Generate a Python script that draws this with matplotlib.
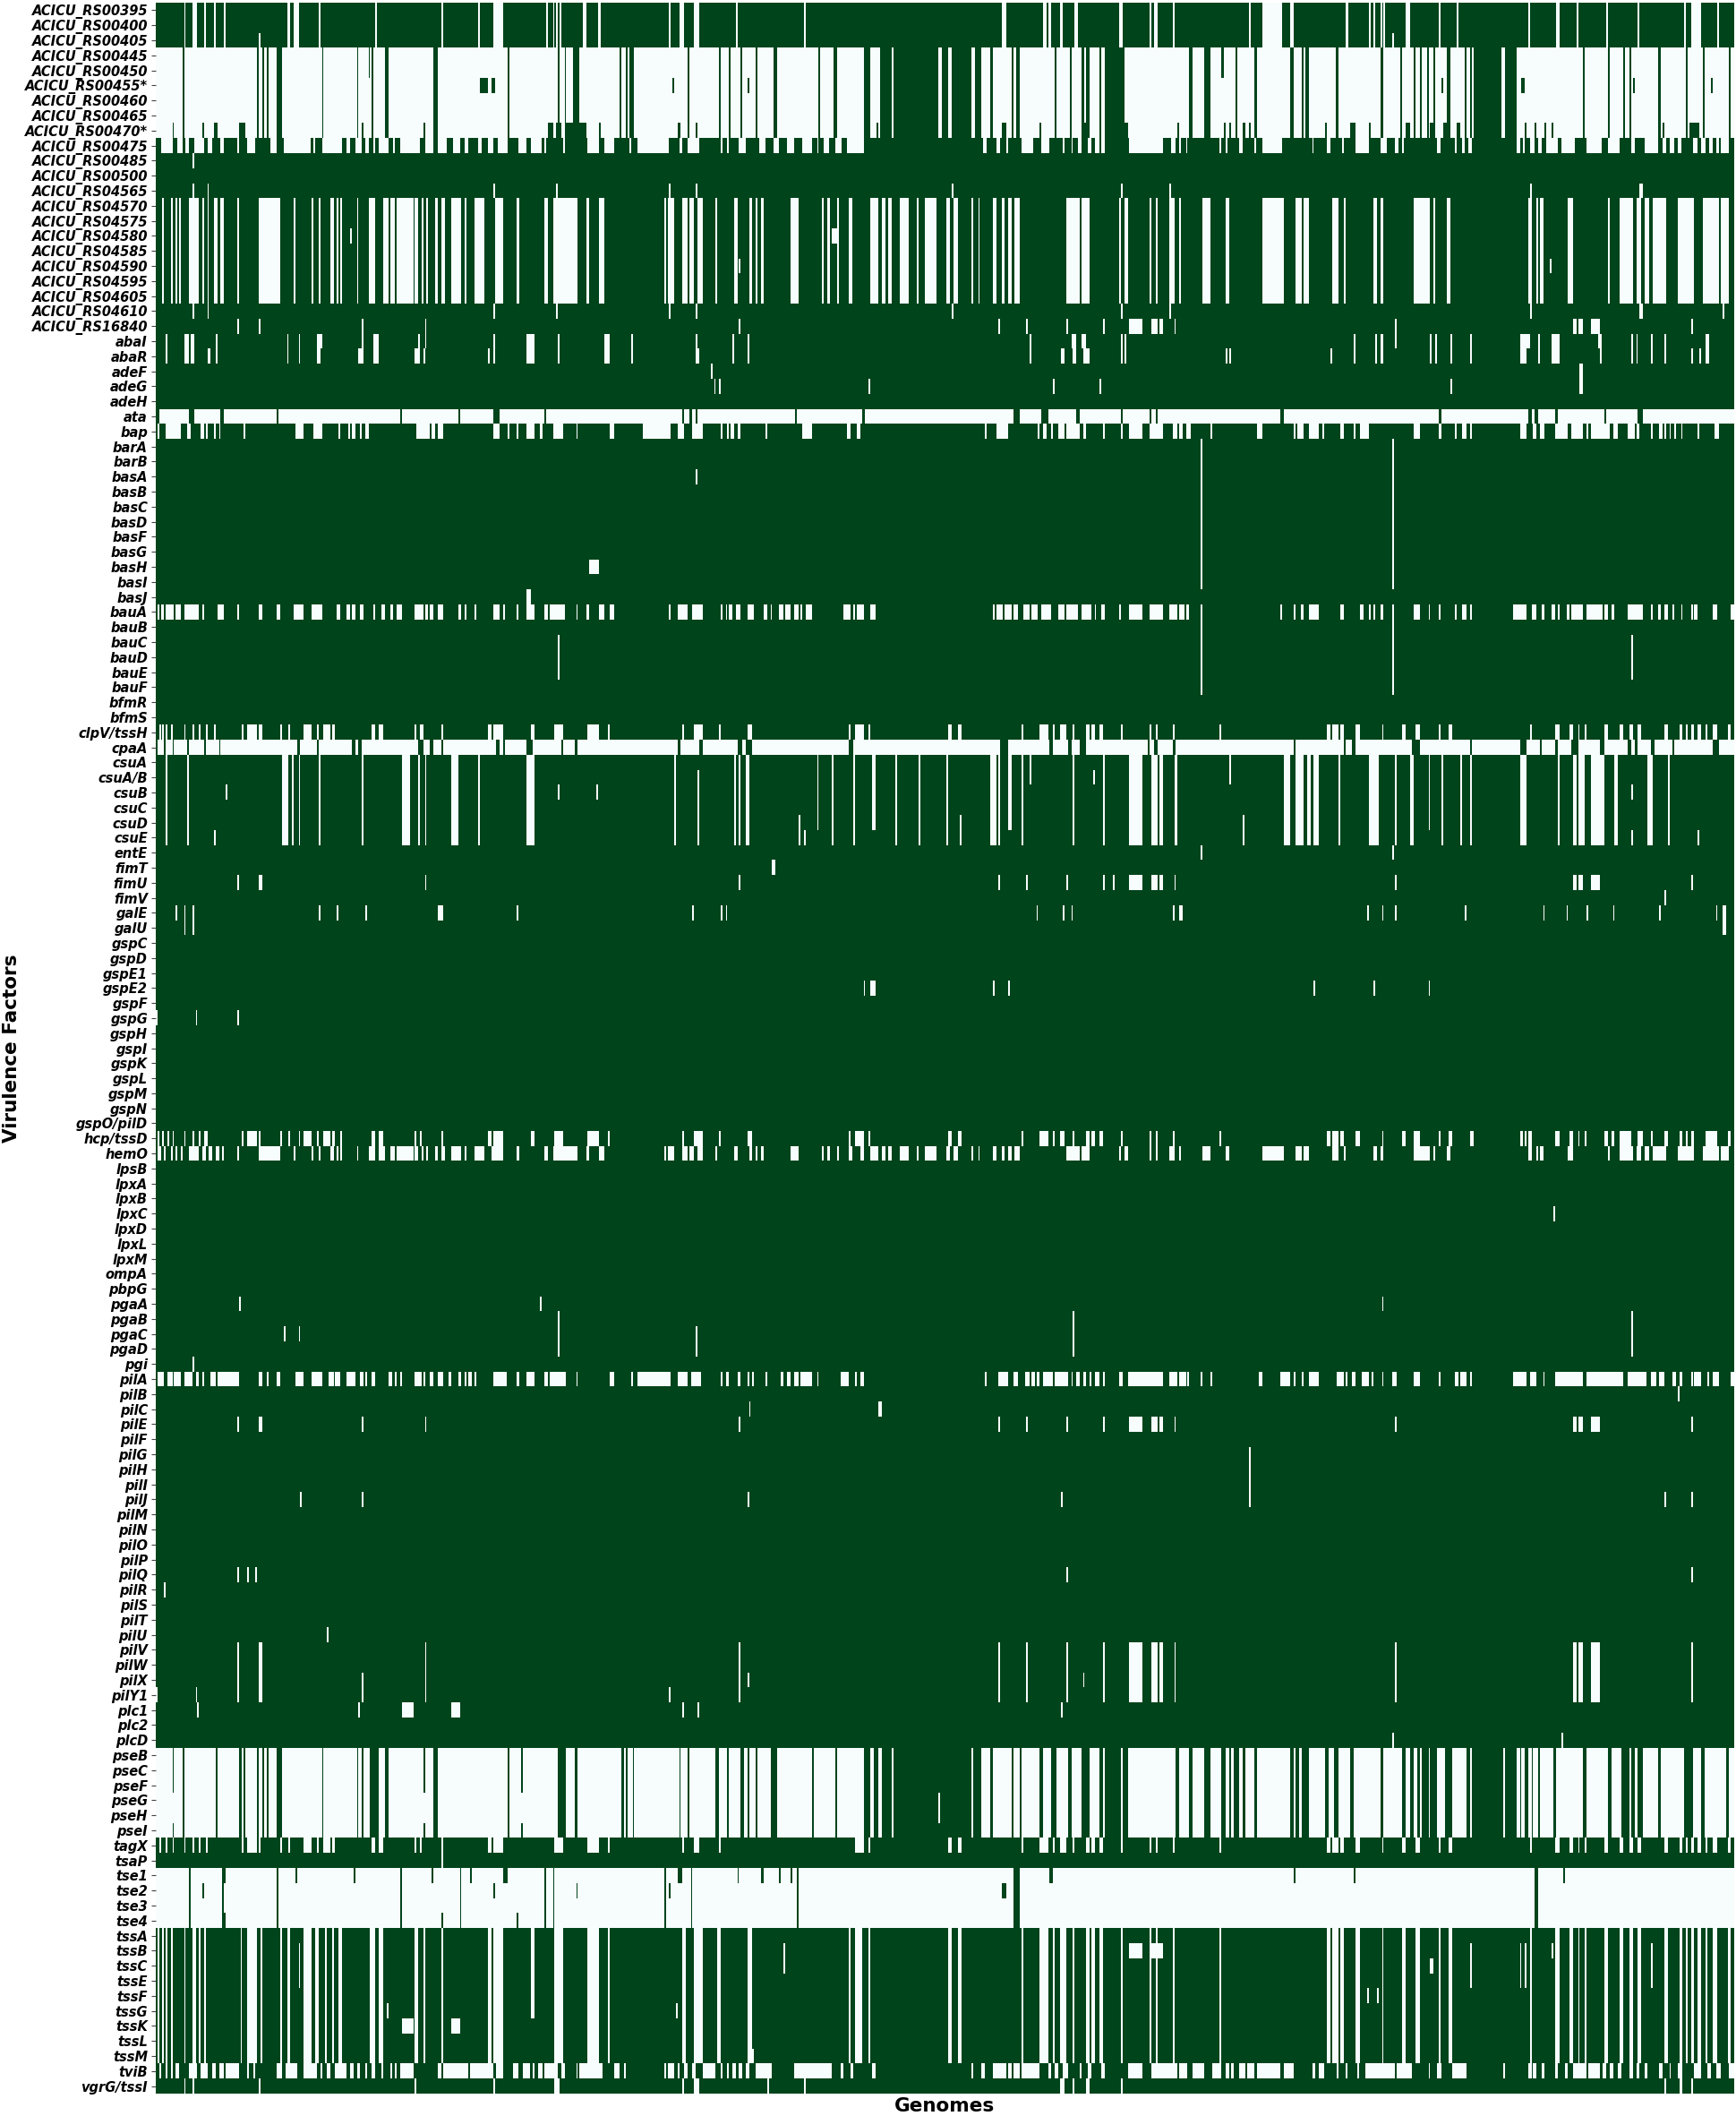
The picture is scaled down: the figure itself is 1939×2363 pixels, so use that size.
import numpy as np
import matplotlib
matplotlib.use("Agg")
import matplotlib.pyplot as plt

N_GENOMES = 950

row_labels = ["ACICU_RS00395","ACICU_RS00400","ACICU_RS00405","ACICU_RS00445","ACICU_RS00450","ACICU_RS00455*","ACICU_RS00460","ACICU_RS00465","ACICU_RS00470*","ACICU_RS00475","ACICU_RS00485","ACICU_RS00500","ACICU_RS04565","ACICU_RS04570","ACICU_RS04575","ACICU_RS04580","ACICU_RS04585","ACICU_RS04590","ACICU_RS04595","ACICU_RS04605","ACICU_RS04610","ACICU_RS16840",
"abaI","abaR","adeF","adeG","adeH","ata","bap","barA","barB","basA","basB","basC","basD","basF","basG","basH","basI","basJ","bauA","bauB","bauC","bauD","bauE","bauF","bfmR","bfmS","clpV/tssH","cpaA","csuA","csuA/B","csuB","csuC","csuD","csuE","entE","fimT","fimU","fimV","galE","galU","gspC","gspD","gspE1","gspE2","gspF","gspG","gspH","gspI","gspK","gspL","gspM","gspN","gspO/pilD","hcp/tssD","hemO","lpsB","lpxA","lpxB","lpxC","lpxD","lpxL","lpxM","ompA","pbpG","pgaA","pgaB","pgaC","pgaD","pgi","pilA","pilB","pilC","pilE","pilF","pilG","pilH","pilI","pilJ","pilM","pilN","pilO","pilP","pilQ","pilR","pilS","pilT","pilU","pilV","pilW","pilX","pilY1","plc1","plc2","plcD","pseB","pseC","pseF","pseG","pseH","pseI","tagX","tsaP","tse1","tse2","tse3","tse4","tssA","tssB","tssC","tssE","tssF","tssG","tssK","tssL","tssM","tviB","vgrG/tssI"]

# Genome index ranges (start, stop) or single genome indices.
rs00395_absent = [17,(22,25),29,35,41,(79,81),(83,86),98,132,172,194,(203,209),235,239,241,243,(257,259),(266,268),309,(315,318),(324,327),349,390,
 (509,512),(534,536),(537,539),(544,546),(553,555),(580,582),598,(601,603),612,658,(666,678),(683,685),(716,718),730,733,737,739,(752,755),(772,773),(783,784),826,(843,845),(855,856),(873,874),(892,893),(920,921),(924,930),(940,941)]
rs00445_present = [16,(61,62),(64,65),(67,68),(73,76),(100,101),(121,122),(130,131),(138,140),(167,170),(212,213),(242,243),(246,247),(251,255),(279,280),283,(285,288),(320,321),(339,340),(345,346),(352,353),(361,362),(372,374),399,(408,410),(426,429),
 (429,430),(436,443),(444,471),(473,477),(479,491),(493,497),(502,504),(515,516),(518,520),541,(550,551),(557,559),(560,562),(568,569),(571,583),(622,624),(631,635),(650,651),(661,663),(683,685),(690,691),(692,694),(710,712),(737,739),(749,750),(757,758),(761,762),(765,766),(769,770),(777,779),(788,789),(791,792),(793,810),(812,819),(859,860),(874,875),(883,884),(887,888),(904,906),(921,922),(931,932),(947,948)]
rs00445_extra = [128,(641,643)]
rs00455_extra = [(195,200),(202,204),311,356,774,(822,824),(889,890),(936,937)]
rs00470_extra = [(10,11),(28,29),(35,37),(50,54),124,(161,162),(236,239),(241,244),(246,259),(267,268),(314,316),(325,326),(434,435),(509,512),(532,533),(558,560),(583,585),(615,616),(643,644),(646,647),(654,656),(658,659),(704,705),(719,722),(730,731),(752,755),(767,769),(775,779),(783,785),(824,825),(830,831),836,(840,841),(907,908),(923,929)]
rs00475_absent = [(3,10),(13,16),(18,20),(23,29),(31,34),(39,41),(49,50),(55,60),(69,73),(77,93),(95,96),(100,112),(115,117),(120,124),(126,128),(131,132),(134,140),(143,144),(147,159),(162,167),(170,175),(179,183),(186,188),(194,196),(200,203),(206,212),(218,223),(226,232),(234,235),(245,246),(260,267),(270,276),(285,286),(290,309),(315,317),(320,327),(340,341),(344,345),(351,355),(363,367),(372,375),(380,384),(389,395),(398,399),(402,405),(409,413),(416,426),
 (498,500),(506,508),(512,513),(521,528),(533,538),(546,547),(551,552),(555,557),(561,563),(565,568),(569,571),(586,606),(611,614),(616,617),(620,621),(640,641),(644,645),(652,654),(661,662),(666,678),(696,697),(705,707),(714,715),(722,730),(737,741),(746,748),(750,751),(771,773),(782,783),(786,788),(790,792),(819,821),(823,824),(827,830),(832,834),(837,844),(846,854),(861,870),(874,881),(888,890),(896,904),(907,909),(911,914),(916,918),(925,928),(930,933),(935,937),(939,941),(942,947)]
rs04565_absent = [22,31,203,241,309,325,479,581,(610,611),827,(893,895)]
block04570_left = [(4,5),(9,10),12,(14,15),(20,26),(28,29),31,(35,37),(39,41),(49,50),(62,75),(83,84),(94,95),(98,99),(105,107),109,(111,112),(121,122),(128,132),(137,140),(141,144),(145,155),(156,158),(160,161),(163,164),(168,170),(172,174),(178,184),(186,187),(192,198),(204,209),(217,219),(234,236),(239,254),(259,261),(267,270),(306,307),(308,312),(317,320),(321,324),(326,329),(337,338),(348,350),(357,359),(361,362),(364,366),(382,387),(401,402),(404,406),410,(417,419)]
block04570_right = [(430,435),(437,439),(441,443),(448,453),(458,459),(463,470),(476,478),(480,483),(491,492),(495,496),(504,506),(509,511),(513,515),(517,520),(548,556),(557,562),(580,581),(583,585),(598,599),(602,603),(610,613),(616,617),(630,635),(644,646),(666,679),(686,690),(691,694),(708,712),(715,716),(733,735),(737,739),(757,767),(769,770),(777,779),(826,828),(831,832),(833,835),(850,853),(874,875),(881,889),(891,894),(896,899),(901,909),(916,926),(931,941),(942,947)]
rs04580_extra = [(117,118),(407,411)]
rs04590_extra = [(351,352),(839,840)]
rs16840_absent = [(49,50),(62,63),124,(162,163),(351,352),(507,508),(524,525),548,570,(586,594),(599,603),(604,606),(613,614),746,(853,855),(856,859),(864,869),(924,925)]
abaI_absent = [(6,7),(17,20),(21,23),(36,37),(79,80),(86,87),(97,100),124,(131,134),(158,159),(162,163),203,(223,228),(242,243),(270,273),(286,287),(325,326),347,(356,357),(526,527),(551,554),(557,560),581,(583,584),(721,722),(734,735),(737,739),746,767,(770,771),779,791,(821,827),(832,833),(840,845),(868,870),888,(891,892),(900,901),(908,909),(933,935)]
abaR_absent = [(6,7),(17,20),(21,23),(31,33),(36,37),(79,80),(86,87),(97,99),(122,125),(131,134),(156,159),(161,162),(200,201),203,(223,228),(242,243),(270,273),(286,287),(325,327),347,(356,357),(526,527),(545,547),(552,554),(558,562),581,(583,584),644,646,(707,708),(721,722),(734,735),(737,739),767,(770,771),779,791,(821,825),(832,833),(840,845),(869,870),888,(891,892),(900,901),(908,909),924,929,(933,935)]
adeF_absent = [(334,335),(857,859)]
adeG_absent = [336,339,429,(540,541),(568,569),779,(857,859)]
ata_present = [(0,2),(20,23),(39,41),(73,74),(147,148),(182,183),(203,207),(234,235),(317,318),(321,323),325,(385,386),(425,427),(516,520),(533,537),(554,556),581,(598,599),(602,603),(677,679),(772,774),(826,828),(830,832),(842,844),(872,873),(892,895)]
bap_absent = [(1,2),(6,15),(19,21),(27,29),(30,31),(35,36),(38,39),(53,54),(84,89),(95,100),(110,111),(116,117),(118,120),(123,124),(126,128),(157,165),(166,168),(170,173),(203,207),(212,213),(217,218),(223,228),(231,233),(239,245),(253,254),(273,276),(293,310),(314,318),(323,329),(340,341),(344,345),(346,348),(350,352),(367,368),(389,395),(416,418),(422,424),
 (499,500),(506,513),(531,532),(534,536),539,(543,547),(548,556),(558,560),(570,571),581,(586,594),(598,606),(612,615),(616,618),(620,623),(635,636),(663,666),(685,686),(687,691),(694,700),(702,703),(713,715),(721,722),(725,730),(757,761),(772,774),(782,783),(786,789),(791,792),(821,825),(829,831),(833,836),(842,850),(852,859),(861,862),(864,875),(877,880),(886,890),(891,893),(900,901),(905,907),(908,909),(911,912),(914,915),(918,919),(928,929),(938,941)]
long_lines = [629,744]
basH_absent = [(261,267)]
basJ_absent = [(223,226)]
bau_line = [(242,243),888]
bauA_absent = [(1,2),(3,5),(6,11),(12,15),(17,26),(28,29),(37,41),(49,50),(62,64),(73,75),(83,89),(94,100),(109,111),(115,117),(118,120),(123,125),(131,132),(136,138),(141,143),(145,148),(156,161),(162,164),(165,167),(170,173),(182,184),(186,187),(192,193),(203,207),(209,210),(217,218),(223,228),(234,236),(237,246),(253,254),(259,261),(267,270),(273,276),(309,310),(314,320),(323,329),(340,341),(343,344),(345,347),(349,352),(356,360),(366,368),(370,371),(375,378),(379,382),(384,387),(388,389),(391,395),(414,418),(420,421),(422,426),
 (430,433),(504,505),(506,510),(511,515),(516,519),(522,526),(527,531),(533,539),(543,547),(548,555),(557,563),(565,566),(569,571),(580,581),(586,594),(598,606),(610,615),(616,619),(620,622),629,(677,678),(685,686),(689,691),(694,700),(713,715),(725,727),(730,731),(733,734),(737,739),744,(757,761),(766,767),(772,773),(782,783),(786,789),(791,792),(817,825),(828,831),(834,836),(840,842),(844,845),(849,851),(852,859),(861,871),(872,874),(876,878),(886,895),(900,901),(904,906),(908,910),(913,914),(918,919),(924,925),(926,928),(937,940),(948,950)]
clpV_left = [2,(4,5),(6,7),(9,10),17,22,26,(30,31),(35,36),(52,53),(55,61),(62,64),75,80,(89,94),97,(101,105),(106,108),(130,132),(134,137),(156,157),(159,161),(172,173),(200,202),(203,209),(226,228),(240,245),(260,267),(272,273),(317,318),(324,329),(339,340),(356,359),(417,418),(421,426)]
clpV_right = [429,(477,479),(483,485),(521,522),(532,537),(540,541),(544,548),(552,553),(560,562),(563,565),(568,570),581,(598,599),(602,603),(612,613),(640,641),(705,707),(708,712),(713,715),(722,725),(738,739),(750,752),(758,761),(772,773),(778,780),(827,828),(842,845),(851,853),(856,857),(860,861),(872,874),(881,883),(887,889),(892,894),(908,910),(917,919),(921,922),(924,926),(928,930),(933,934),(937,940),(946,948)]
cpaA_present = [(0,1),(5,6),10,(19,20),29,(38,39),(85,87),97,(118,120),(122,124),(158,161),(165,167),(172,173),(205,207),(209,210),(223,227),(244,245),(252,254),(314,316),(327,329),(350,353),(355,359),(417,420),
 (508,513),(538,540),(549,551),(556,560),597,(601,603),(612,614),(685,686),(715,716),(720,722),(756,761),(791,792),(821,825),(833,834),(842,844),(852,856),(869,872),(886,888),(890,892),(900,902),(913,914),(937,941)]
csu_all = [(6,7),(19,20),(76,80),(82,83),(86,87),(98,99),124,(148,153),(158,159),(162,163),(178,182),(194,195),(223,228),(312,313),(348,349),(351,352),(355,357),(407,408),(420,421),
 (445,446),(459,460),(476,477),(502,506),(507,508),(521,522),(552,553),(570,571),(586,594),(599,603),(604,606),(613,615),(679,683),(686,691),(693,695),(697,700),(712,713),(730,736),746,(755,757),(774,775),(785,786),(791,792),(821,825),(844,845),(853,855),(856,860),(864,872),(878,880),(898,901),(910,911)]
csu_A_to_D = [398,(431,433),(513,515),(766,767)]
csu_AB_down = [(326,327)]
csu_top_two = [(526,527),(646,647)]
csuAB_extra = [(564,565)]
csuB_extra = [(42,43),242,(265,266),888]
csuD_E_extra = [387,484,654]
csuE_extra = [(35,36),(390,391),888,(928,929)]
fimU_absent = [(49,50),(62,64),(162,163),(351,352),(507,508),(524,525),548,570,576,(586,594),(599,603),(604,606),(613,614),746,(853,855),(856,859),(864,869),(924,925)]
galE_absent = [(12,13),(17,18),(22,23),(98,99),(109,110),(126,127),(170,173),(217,218),(323,324),(340,341),(343,344),(530,531),(546,547),(551,552),(612,613),(616,618),(729,730),(738,739),746,(788,789),(835,836),(849,850),(861,862),(877,878),(905,906),(939,940),(943,945)]
galU_absent = [(17,18),(22,23),(943,945)]
gspE2_absent = [(426,427),(430,433),504,(513,514),(697,698),(733,734),(766,767)]
gspG_absent = [(0,1),(24,25),(49,50)]
hcp_left = [1,4,7,10,17,(22,23),(26,27),(29,31),(52,53),(55,61),(62,63),75,80,(86,87),(89,94),97,(101,105),(106,108),(111,112),(130,132),(134,137),(156,157),(159,160),(172,173),(200,202),(203,209),(226,228),(240,245),(260,267),(272,273),(317,318),(324,329),(339,340),(356,359),(417,418),(421,426)]
hcp_right = [429,(477,479),(483,485),(521,522),(532,537),(540,541),(544,547),(552,553),(560,562),(563,565),(568,570),581,(598,599),(602,603),(612,613),(640,641),(705,707),(708,712),(713,715),(722,725),(738,739),(750,752),(757,761),(772,773),(778,780),(791,793),(821,823),(824,825),(826,828),(842,845),(851,853),(856,857),(860,861),(872,874),(876,878),(881,888),(892,895),(900,901),(908,910),(917,919),(921,922),(924,926),(933,940),(946,948)]
hemO_left = [(1,3),(5,6),(9,10),12,(15,16),(20,26),(28,30),(32,34),(36,38),(40,41),(49,50),(62,75),(83,84),(94,95),(98,99),(105,107),109,(111,112),(121,122),(128,132),(134,138),(141,144),(145,155),(156,158),(160,161),(163,164),(168,170),(172,174),(178,184),(186,187),(192,198),(202,209),(217,219),(234,236),(239,254),(259,261),(267,270),(306,307),(308,312),(317,320),(321,324),(326,329),(337,338),(348,350),(357,359),(361,362),(364,366),(382,387),(401,402),(404,406),410,(417,419),(424,426)]
lpxC_absent = [(841,842)]
pgaA_absent = [(50,51),(231,232),(738,739)]
pga_BCD = [(242,243),(552,553),888]
pgaC_extra = [(77,78),(86,87),325]
pgaD_extra = [325]
pgi_absent = [(22,23)]
pilA_absent = [(1,5),(7,10),(11,15),(17,22),(24,26),(28,29),(33,36),(37,50),(62,64),(67,68),(73,75),(84,89),(94,100),(104,107),(108,111),(115,120),(123,125),(126,127),(130,132),(140,142),(144,145),(147,148),(156,160),(161,162),(165,167),(170,173),(176,178),(182,184),(186,187),(188,190),(192,193),(203,211),(217,219),(223,228),(234,236),(237,247),(253,254),(273,276),(286,287),(290,310),(314,320),(322,328),(340,341),(343,345),(350,352),(356,357),(359,360),(367,368),(376,378),(380,382),(384,387),(388,395),(398,399),(412,417),(421,422),(424,426),
 (499,500),(507,513),(516,519),(523,526),(527,529),(530,532),(534,540),(541,549),(551,552),(554,556),(558,560),(562,563),(565,568),(570,571),(580,582),(585,606),(610,615),(616,620),(621,622),629,(635,636),(664,666),(677,683),(685,686),(690,691),(694,700),(711,715),(716,717),(720,722),(726,730),(732,733),(738,739),(744,747),(757,761),(772,773),(782,784),(785,789),(791,792),(817,825),(827,831),(835,836),(842,859),(861,883),(886,897),(900,903),(905,908),(913,915),(917,919),(924,925),(926,930),(934,935),(937,941),(948,950)]
pilB_absent = [(916,917)]
pilC_absent = [(357,358),(435,437)]
pilE_absent = [(49,50),(62,64),124,(162,163),(351,352),(507,508),(524,525),548,570,(586,594),(599,603),(604,606),(613,614),746,(853,855),(856,859),(864,869),(924,925)]
pil_GHIJ = [(658,659)]
pilJ_extra = [(87,88),124,(356,357),(545,546),(908,909),(924,925)]
pilQ_absent = [49,55,(60,61),548,(924,925)]
pilR_absent = [(5,6)]
pilU_absent = [(103,104)]
pil_VWX = [(49,50),(62,64),(162,163),(351,352),(507,508),(524,525),548,570,(586,594),(599,603),(604,606),(613,614),746,(853,855),(856,859),(864,869),(924,925)]
pilX_extra = [124,(356,357),(558,559)]
pilY1_extra = [0,(24,25),124,309]
plc1_absent = [(25,26),(122,123),(148,155),(178,183),(317,318),(326,327),(545,546)]
plcD_absent = [744,(846,847)]
pse_present_left = [(16,17),(36,37),(50,52),(53,54),(61,62),(64,65),(67,68),(73,76),(100,101),(121,122),(124,125),(129,134),(138,140),(167,170),(212,213),(242,247),(252,254),(280,282),283,(287,288),315,(320,321),(337,339),(344,345),(352,354),(356,357),(361,362),(370,374),(395,396),(409,410),(426,429)]
pse_side_lines = [10,(161,162),(220,221)]
pse_absent_right = [(430,432),(435,437),(443,444),(491,492),(497,502),(504,515),(516,520),(521,532),(534,539),(542,549),(551,557),(562,568),(570,571),(581,582),(585,614),(616,622),(624,631),(635,641),(644,646),(647,649),(652,654),(656,661),(663,683),(685,686),(688,690),(694,704),(706,709),(712,719),(721,737),(739,750),(752,755),(757,759),(761,762),(766,767),(771,776),(780,789),(791,792),(811,812),(819,821),(822,824),(826,828),(829,832),(833,841),(843,859),(861,874),(876,882),(887,888),(890,892),(895,904),(906,920),(925,930),(932,945),(947,950)]
tagX_left = [(2,3),6,10,17,22,26,(30,31),(52,53),(55,61),(62,63),75,80,(89,94),97,(101,105),(106,108),(130,132),(134,137),(156,157),(159,160),(172,173),(200,202),(203,209),(240,245),(260,267),(272,273),(317,318),(324,327),(339,340),(421,426)]
tsaP_absent = [(172,173)]
tse_common = [(20,21),(73,74),(147,148),(183,184),(234,235),(239,240),(306,307),(322,323),(386,387),(516,520),(830,832)]
tse1_extra = [(40,42),(84,85),(119,120),(166,167),(189,190),(209,212),(314,317),(350,351),(364,366),(375,376),(382,383),(538,540),(685,686),(721,722),(847,848)]
tse2_extra = [(28,29),(40,41),(203,204),(253,254),(309,310),(509,512)]
tse3_extra = [(40,41)]
tse4_extra = [(40,42),(172,173),(217,218)]
tss_left = [1,4,(6,7),(9,10),(17,18),(22,24),(26,27),(29,30),(51,52),(55,61),63,(75,76),(79,81),(89,94),(96,98),(102,103),(106,107),(110,112),(129,132),(134,137),(156,158),(161,162),(172,173),(200,202),(203,209),(240,245),(260,267),(272,273),(317,319),(324,329),(338,340),(356,359),(417,418),(421,425)]
tss_upper = [(226,228)]
tssBCE_extra = [86,(791,792),821,(824,825),(900,901)]
tssBtoG_extra = [111]
tssBC_extra = [(378,379)]
tssB_extra = [(586,594),(598,606),(840,841)]
tssC_extra = [(767,769)]
tssF_extra = [729,735]
tssG_extra = [(139,140),313]
tssK_extra = [(148,155),(178,183)]
tssL_extra = [(327,329)]
tssM_extra = [(356,360)]
tviB_absent = [(2,3),(6,7),(9,10),(12,14),(20,25),(27,31),(34,36),(38,41),(42,50),(55,56),(59,60),(73,76),(78,85),(89,97),(99,100),(103,105),(108,115),(117,119),(121,123),(126,127),(130,132),(136,137),(141,142),(144,145),(147,155),(170,172),(173,188),(189,203),(205,209),(215,218),(221,225),(227,228),(230,233),(234,242),(244,246),(253,254),(255,269),(276,279),(282,283),(306,307),(308,312),(314,315),(318,320),(323,325),(329,337),(340,341),(344,345),(347,349),(351,353),(355,357),(361,371),(384,407),(412,414),(418,420),
 (431,433),(491,492),(497,499),(504,512),(513,515),(516,520),(521,532),(537,539),(541,543),(546,549),(556,557),(561,563),(569,571),(585,594),(599,615),(616,621),(624,631),(636,641),(644,646),(647,649),(652,656),(657,661),(663,677),(679,685),(696,698),(700,703),(711,712),(716,717),(723,724),(728,746),(747,756),(766,767),(771,774),(780,789),(811,812),(826,828),(829,831),(834,836),(842,844),(848,850),(853,861),(862,869),(871,873),(875,877),(880,882),(887,889),(891,893),(896,898),(905,907),(911,912),(916,919),(926,930),(934,936),(939,942),(947,950)]
vgrG_absent = [(17,18),(22,23),(62,63),(156,157),(203,204),(240,243),(317,318),(324,327),368,(390,391),(544,547),(552,553),(560,562),581,(908,909),(917,919),(924,925)]


def gaps(*specs):
    """Presence vector with the listed genomes marked absent."""
    row = np.ones(N_GENOMES, dtype=int)
    for spec in specs:
        for item in spec:
            if isinstance(item, tuple):
                row[item[0]:max(item[1], item[0] + 1)] = 0
            else:
                row[item] = 0
    return row


def hits(*specs):
    """Presence vector with only the listed genomes marked present."""
    return 1 - gaps(*specs)


def pse_row(*dark):
    row = hits(pse_present_left, *dark)
    row[429:] = gaps(pse_absent_right)[429:]
    return row


tse_row = lambda extra: hits(tse_common, extra)
tss_base = (tss_left, clpV_right)

rows = {}
rows["ACICU_RS00395"] = gaps(rs00395_absent)
rows["ACICU_RS00400"] = gaps(rs00395_absent)
rows["ACICU_RS00405"] = gaps(rs00395_absent, [(62,63),744])
rows["ACICU_RS00445"] = hits(rs00445_present, rs00445_extra)
rows["ACICU_RS00450"] = hits(rs00445_present, rs00445_extra)
rows["ACICU_RS00455*"] = hits(rs00445_present, rs00455_extra)
rows["ACICU_RS00460"] = hits(rs00445_present)
rows["ACICU_RS00465"] = hits(rs00445_present)
rows["ACICU_RS00470*"] = hits(rs00445_present, rs00470_extra)
rows["ACICU_RS00475"] = gaps(rs00475_absent)
rows["ACICU_RS00485"] = gaps([22])
rows["ACICU_RS04565"] = gaps(rs04565_absent)
for name in ["ACICU_RS04570","ACICU_RS04575","ACICU_RS04585","ACICU_RS04595","ACICU_RS04605"]:
    rows[name] = gaps(block04570_left, block04570_right)
rows["ACICU_RS04580"] = gaps(block04570_left, block04570_right, rs04580_extra)
rows["ACICU_RS04590"] = gaps(block04570_left, block04570_right, rs04590_extra)
rows["ACICU_RS04610"] = gaps(rs04565_absent, [(943,944)])
rows["ACICU_RS16840"] = gaps(rs16840_absent)
rows["abaI"] = gaps(abaI_absent)
rows["abaR"] = gaps(abaR_absent)
rows["adeF"] = gaps(adeF_absent)
rows["adeG"] = gaps(adeG_absent)
rows["ata"] = hits(ata_present)
rows["bap"] = gaps(bap_absent)
for name in ["barA","barB","basB","basC","basD","basF","basG","basI"]:
    rows[name] = gaps(long_lines)
rows["basA"] = gaps(long_lines, [325])
rows["basH"] = gaps(long_lines, basH_absent)
rows["basJ"] = gaps(basJ_absent)
rows["bauA"] = gaps(bauA_absent)
rows["bauB"] = gaps(long_lines)
for name in ["bauC","bauD","bauE"]:
    rows[name] = gaps(long_lines, bau_line)
rows["bauF"] = gaps(long_lines)
rows["clpV/tssH"] = gaps(clpV_left, clpV_right)
rows["cpaA"] = hits(cpaA_present)
rows["csuA"] = gaps(csu_all, csu_A_to_D, csu_top_two)
rows["csuA/B"] = gaps(csu_all, csu_A_to_D, csu_top_two, csu_AB_down, csuAB_extra)
rows["csuB"] = gaps(csu_all, csu_A_to_D, csu_AB_down, csuB_extra)
rows["csuC"] = gaps(csu_all, csu_A_to_D, csu_AB_down)
rows["csuD"] = gaps(csu_all, csu_A_to_D, csu_AB_down, csuD_E_extra)
rows["csuE"] = gaps(csu_all, csu_AB_down, csuD_E_extra, csuE_extra)
rows["entE"] = gaps(long_lines)
rows["fimT"] = gaps([(371,373)])
rows["fimU"] = gaps(fimU_absent)
rows["fimV"] = gaps([(908,909)])
rows["galE"] = gaps(galE_absent)
rows["galU"] = gaps(galU_absent)
rows["gspE2"] = gaps(gspE2_absent)
rows["gspG"] = gaps(gspG_absent)
rows["hcp/tssD"] = gaps(hcp_left, hcp_right)
rows["hemO"] = gaps(hemO_left, block04570_right)
rows["lpxC"] = gaps(lpxC_absent)
rows["pgaA"] = gaps(pgaA_absent)
rows["pgaB"] = gaps(pga_BCD)
rows["pgaC"] = gaps(pga_BCD, pgaC_extra)
rows["pgaD"] = gaps(pga_BCD, pgaD_extra)
rows["pgi"] = gaps(pgi_absent)
rows["pilA"] = gaps(pilA_absent)
rows["pilB"] = gaps(pilB_absent)
rows["pilC"] = gaps(pilC_absent)
rows["pilE"] = gaps(pilE_absent)
rows["pilG"] = gaps(pil_GHIJ)
rows["pilH"] = gaps(pil_GHIJ)
rows["pilI"] = gaps(pil_GHIJ)
rows["pilJ"] = gaps(pil_GHIJ, pilJ_extra)
rows["pilQ"] = gaps(pilQ_absent)
rows["pilR"] = gaps(pilR_absent)
rows["pilU"] = gaps(pilU_absent)
rows["pilV"] = gaps(pil_VWX)
rows["pilW"] = gaps(pil_VWX)
rows["pilX"] = gaps(pil_VWX, pilX_extra)
rows["pilY1"] = gaps(pil_VWX, pilY1_extra)
rows["plc1"] = gaps(plc1_absent)
rows["plcD"] = gaps(plcD_absent)
rows["pseB"] = pse_row(pse_side_lines)
rows["pseC"] = pse_row(pse_side_lines)
rows["pseF"] = pse_row(pse_side_lines)
rows["pseG"] = pse_row()
rows["pseH"] = pse_row()
rows["pseI"] = pse_row(pse_side_lines)
rows["pseG"][471] = 0
rows["pseH"][471] = 0
rows["tagX"] = gaps(tagX_left, clpV_right)
rows["tsaP"] = gaps(tsaP_absent)
rows["tse1"] = tse_row(tse1_extra)
rows["tse2"] = tse_row(tse2_extra)
rows["tse3"] = tse_row(tse3_extra)
rows["tse4"] = tse_row(tse4_extra)
rows["tssA"] = gaps(*tss_base, tss_upper)
rows["tssB"] = gaps(*tss_base, tss_upper, tssBCE_extra, tssBtoG_extra, tssBC_extra, tssB_extra)
rows["tssC"] = gaps(*tss_base, tss_upper, tssBCE_extra, tssBtoG_extra, tssBC_extra, tssC_extra)
rows["tssE"] = gaps(*tss_base, tss_upper, tssBCE_extra, tssBtoG_extra)
rows["tssF"] = gaps(*tss_base, tss_upper, tssBtoG_extra, tssF_extra)
rows["tssG"] = gaps(*tss_base, tss_upper, tssBtoG_extra, tssG_extra)
rows["tssK"] = gaps(*tss_base, tssK_extra)
rows["tssL"] = gaps(*tss_base, tssL_extra)
rows["tssM"] = gaps(*tss_base, tssM_extra)
rows["tviB"] = gaps(tviB_absent)
rows["vgrG/tssI"] = gaps(vgrG_absent)

matrix = np.array([rows.get(name, gaps()) for name in row_labels])

fig = plt.figure(figsize=(19.40, 23.63), dpi=100)
W, H = 1940.0, 2363.0
ax = fig.add_axes([174 / W, 1 - 2338 / H, (1937 - 174) / W, (2338 - 3) / H])
ax.imshow(matrix, cmap="BuGn", vmin=0, vmax=1, aspect="auto", interpolation="nearest")
ax.set_xticks([])
ax.set_yticks(np.arange(len(row_labels)))
ax.set_yticklabels(row_labels, fontsize=10.5, fontweight="bold", fontstyle="italic")
ax.tick_params(axis="y", length=3.5, width=0.8, color="#444444", pad=3)
for side in ax.spines.values():
    side.set_visible(False)
ax.set_xlabel("Genomes", fontsize=15.5, fontweight="bold")
ax.xaxis.set_label_coords(0.5, -0.0015, transform=ax.transAxes)
ax.xaxis.label.set_va("top")
ax.set_ylabel("Virulence Factors", fontsize=15.5, fontweight="bold")
ax.yaxis.set_label_coords(-0.0855, 0.5)
fig.savefig("out.png", dpi=100)
